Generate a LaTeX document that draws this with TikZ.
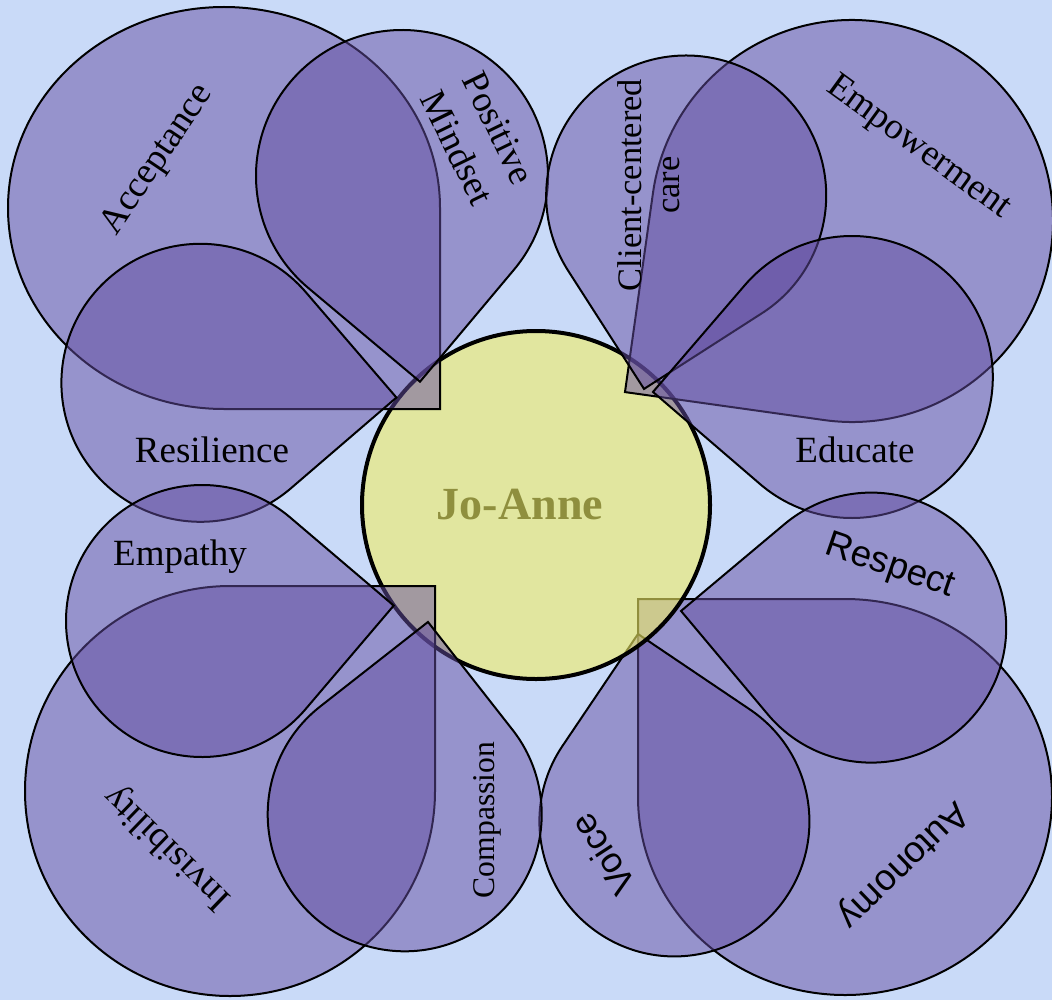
\documentclass[tikz,border=0pt]{standalone}
\usepackage{fontspec}
\setmainfont{Liberation Serif}
\newfontfamily\arialf{Liberation Sans}
\definecolor{bgblue}{RGB}{201,218,248}
\definecolor{petalc}{RGB}{100,78,162}
\definecolor{yel}{RGB}{241,238,101}
\definecolor{olivetxt}{RGB}{143,143,62}
\tikzset{
  petal/.style={fill=petalc, fill opacity=0.5, draw=black, draw opacity=1, line width=1pt, line join=miter},
  lab/.style={inner sep=0pt, text=black, font=\fontsize{18.5}{23}\selectfont},
  sanslab/.style={inner sep=0pt, text=black, font=\arialf\fontsize{18.3}{22}\selectfont},
}
% teardrop: center x, center y, rotation, xscale, yscale
\newcommand{\teardrop}[5]{%
  \begin{scope}[shift={(#1,#2)}, rotate=#3, xscale=#4, yscale=#5]
    \path[petal] (1,0) -- (1,1) -- (0,1) arc[start angle=90, end angle=360, radius=1] -- cycle;
  \end{scope}}
\begin{document}
\begin{tikzpicture}[x=0.5pt,y=-0.5pt]
\fill[bgblue] (0,0) rectangle (1052,1000);
\useasboundingbox (0,0) rectangle (1052,1000);

% petals drawn below the centre
\teardrop{845}{797}{180}{207}{198}   % Autonomy
\teardrop{674.4}{821.4}{146}{135}{135} % Voice

% centre
\path[fill=yel, fill opacity=0.6, draw=black, draw opacity=1, line width=2pt] (536,505) circle[radius=174];

% top left
\teardrop{224}{208}{0}{216}{201}      % Acceptance
\teardrop{402}{176}{-40}{146}{146}    % Positive Mindset
\teardrop{200.4}{382.8}{40.7}{139}{139} % Resilience
% top right
\teardrop{852}{221}{-98}{201}{201}    % Empowerment
\teardrop{686.2}{195.5}{-57.3}{140}{140} % Client-centered care
\teardrop{851.8}{377}{-130.7}{141}{141}  % Educate
% bottom left
\teardrop{230}{791}{90}{205}{205}     % Invisibility
\teardrop{202}{621}{49.6}{136}{136} % Empathy
\teardrop{404.7}{814.3}{128.1}{137}{137} % Compassion
% bottom right
\teardrop{871.2}{627.6}{-140}{135}{135} % Respect

% labels
\node[inner sep=0pt, text=olivetxt, font=\bfseries\fontsize{23}{27}\selectfont] (jo) at (520,505) {Jo-Anne};
\node[lab, rotate=56] (acc) at (158,160) {Acceptance};
\node[lab, rotate=-64, align=center] (pm) at (478,138) {Positive\\Mindset};
\node[lab] (res) at (212,450) {Resilience};
\node[lab, rotate=90, align=center, font=\fontsize{17.2}{19}\selectfont] (cc) at (649,185) {Client-centered\\care};
\node[lab, rotate=-36] (emp) at (918,148) {Empowerment};
\node[lab] (edu) at (855,450) {Educate};
\node[lab] (emy) at (180,557) {Empathy};
\node[lab, rotate=136] (inv) at (168,847) {Invisibility};
\node[lab, rotate=90, font=\fontsize{15.8}{18}\selectfont] (com) at (487,820) {Compassion};
\node[sanslab, rotate=-19] (rsp) at (890,567) {Respect};
\node[sanslab, rotate=224] (aut) at (902,864) {Autonomy};
\node[sanslab, rotate=123, font=\arialf\fontsize{18}{22}\selectfont] (voi) at (603,855) {Voice};
\end{tikzpicture}
\end{document}
